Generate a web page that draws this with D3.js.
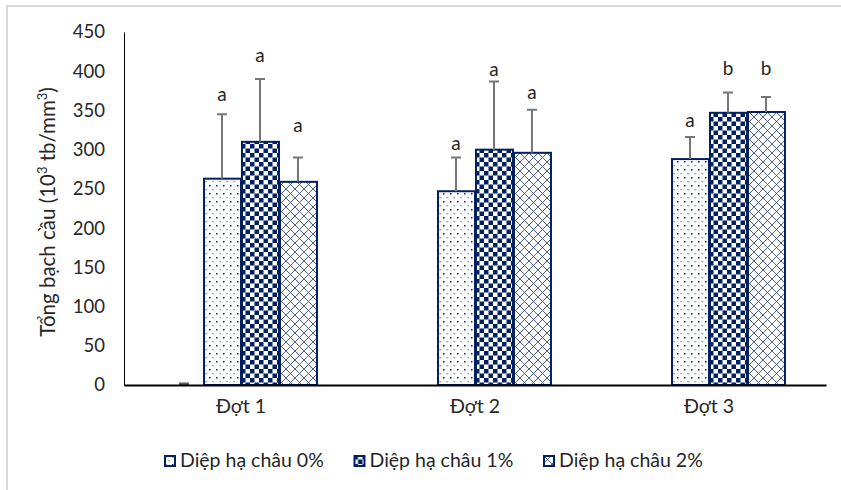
<!DOCTYPE html>
<html>
<head>
<meta charset="utf-8">
<script src="https://cdn.jsdelivr.net/npm/d3@7"></script>
<style>
  body { margin: 0; background: #fff; }
  text { font-family: Lato, "Open Sans", sans-serif; fill: #262626; }
</style>
</head>
<body>
<div id="chart"></div>
<script>
var categories = ['Đợt 1', 'Đợt 2', 'Đợt 3'];
var seriesNames = ['Diệp hạ châu 0%', 'Diệp hạ châu 1%', 'Diệp hạ châu 2%'];

// hidden first series (only its error cap shows in Đợt 1)
var hiddenValues = [0, null, null];

var values0 = [263, 247, 288];
var values1 = [310, 300, 347];
var values2 = [259, 296, 348];

var sd0 = [82, 43, 28];
var sd1 = [80, 87, 26];
var sd2 = [31, 55, 19];

var letters0 = ['a', 'a', 'a'];
var letters1 = ['a', 'a', 'b'];
var letters2 = ['a', 'a', 'b'];

// height (in axis units) where the letter sits
var letterAt0 = [362, 300, 329];
var letterAt1 = [412, 394, 395];
var letterAt2 = [322, 364, 395];

var yTicks = [0, 50, 100, 150, 200, 250, 300, 350, 400, 450];

var width = 841, height = 490;
var navy = '#002060';

var svg = d3.select('#chart').append('svg')
  .attr('width', width)
  .attr('height', height);

// patterns
var defs = svg.append('defs');

var pDots = defs.append('pattern').attr('id', 'pat0')
  .attr('patternUnits', 'userSpaceOnUse').attr('width', 7).attr('height', 8);
pDots.append('rect').attr('width', 7).attr('height', 8).attr('fill', '#fff');
pDots.append('rect').attr('x', 1).attr('y', 1).attr('width', 1.5).attr('height', 1.5).attr('fill', navy);
pDots.append('rect').attr('x', 4.5).attr('y', 5).attr('width', 1.2).attr('height', 1.2).attr('fill', '#5a6f9c');

var pCheck = defs.append('pattern').attr('id', 'pat1')
  .attr('patternUnits', 'userSpaceOnUse').attr('width', 9).attr('height', 9);
pCheck.append('rect').attr('width', 9).attr('height', 9).attr('fill', '#fff');
pCheck.append('rect').attr('width', 4.5).attr('height', 4.5).attr('fill', navy);
pCheck.append('rect').attr('x', 4.5).attr('y', 4.5).attr('width', 4.5).attr('height', 4.5).attr('fill', navy);

var pLat = defs.append('pattern').attr('id', 'pat2')
  .attr('patternUnits', 'userSpaceOnUse').attr('width', 9).attr('height', 9);
pLat.append('rect').attr('width', 9).attr('height', 9).attr('fill', '#fff');
pLat.append('path').attr('d', 'M0,0L9,9M9,0L0,9')
  .attr('stroke', '#3b5186').attr('stroke-width', 0.9).attr('fill', 'none');

// frame of the embedded chart
svg.append('path')
  .attr('d', 'M7,' + height + 'V6H' + width)
  .attr('fill', 'none').attr('stroke', '#d9d9d9').attr('stroke-width', 2);

var x0 = d3.scaleBand().domain(categories).range([124, 826]);
var x1 = d3.scaleBand().domain(d3.range(4)).range([0, x0.bandwidth()]).paddingOuter(1.08);
var y = d3.scaleLinear().domain([0, 450]).range([385, 32]);

var series = [
  { name: seriesNames[0], values: values0, sd: sd0, letters: letters0, at: letterAt0, fill: 'url(#pat0)' },
  { name: seriesNames[1], values: values1, sd: sd1, letters: letters1, at: letterAt1, fill: 'url(#pat1)' },
  { name: seriesNames[2], values: values2, sd: sd2, letters: letters2, at: letterAt2, fill: 'url(#pat2)' }
];

// y axis
var yAxis = svg.append('g')
  .attr('transform', 'translate(124,0)')
  .call(d3.axisLeft(y).tickValues(yTicks).tickSize(0).tickSizeOuter(0).tickPadding(19));
yAxis.select('.domain').attr('stroke', '#000').attr('stroke-width', 1);
yAxis.selectAll('text').style('font-size', '18.5px').attr('fill', '#262626').style('font-family', 'Lato, sans-serif');

svg.append('text')
  .attr('transform', 'translate(55,212) rotate(-90)')
  .attr('text-anchor', 'middle')
  .style('font-size', '20.5px')
  .html('Tổng bạch cầu (10<tspan dy="-8" font-size="13">3</tspan><tspan dy="8"> tb/mm</tspan><tspan dy="-8" font-size="13">3</tspan><tspan dy="8">)</tspan>');

// bars
var groups = svg.selectAll('g.grp')
  .data(categories)
  .enter().append('g')
  .attr('class', 'grp')
  .attr('transform', function(d) { return 'translate(' + x0(d) + ',0)'; });

series.forEach(function(s, si) {
  groups.append('rect')
    .attr('x', x1(si + 1) + 1)
    .attr('y', function(d, i) { return y(s.values[i]); })
    .attr('width', x1.bandwidth() - 1)
    .attr('height', function(d, i) { return y(0) - y(s.values[i]); })
    .attr('fill', s.fill)
    .attr('stroke', navy)
    .attr('stroke-width', 2);
});

// error bars (upper only)
series.forEach(function(s, si) {
  var cx = x1(si + 1) + x1.bandwidth() / 2;
  groups.append('path')
    .attr('d', function(d, i) {
      var top = y(s.values[i] + s.sd[i]);
      return 'M' + cx + ',' + y(s.values[i]) + 'V' + top + 'M' + (cx - 5) + ',' + top + 'H' + (cx + 5);
    })
    .attr('stroke', '#767676').attr('stroke-width', 2).attr('fill', 'none');

  groups.append('text')
    .attr('x', cx)
    .attr('y', function(d, i) { return y(s.at[i]); })
    .attr('text-anchor', 'middle')
    .style('font-size', '19px')
    .attr('fill', '#404040')
    .text(function(d, i) { return s.letters[i]; });
});

// hidden series cap
groups.filter(function(d, i) { return hiddenValues[i] !== null; })
  .append('path')
  .attr('d', function(d, i) {
    var cx = x1(0) + x1.bandwidth() / 2;
    return 'M' + (cx - 5) + ',' + (y(0) - 1) + 'H' + (cx + 5);
  })
  .attr('stroke', '#595959').attr('stroke-width', 3);

// x axis
var xAxis = svg.append('g')
  .attr('transform', 'translate(0,385)')
  .call(d3.axisBottom(x0).tickSize(0).tickSizeOuter(0).tickPadding(14));
xAxis.select('.domain').attr('stroke', '#000').attr('stroke-width', 2);
xAxis.selectAll('text').style('font-size', '19.5px').attr('fill', '#262626').style('font-family', 'Lato, sans-serif');

// legend
var legend = svg.selectAll('g.leg')
  .data(series)
  .enter().append('g')
  .attr('class', 'leg')
  .attr('transform', function(d, i) { return 'translate(' + (164 + i * 189.5) + ',455)'; });

legend.append('rect')
  .attr('x', 1).attr('y', 1)
  .attr('width', 10).attr('height', 10)
  .attr('fill', function(d) { return d.fill; })
  .attr('stroke', navy).attr('stroke-width', 2);

legend.append('text')
  .attr('x', 16).attr('y', 12)
  .style('font-size', '19.5px')
  .text(function(d) { return d.name; });
</script>
</body>
</html>
